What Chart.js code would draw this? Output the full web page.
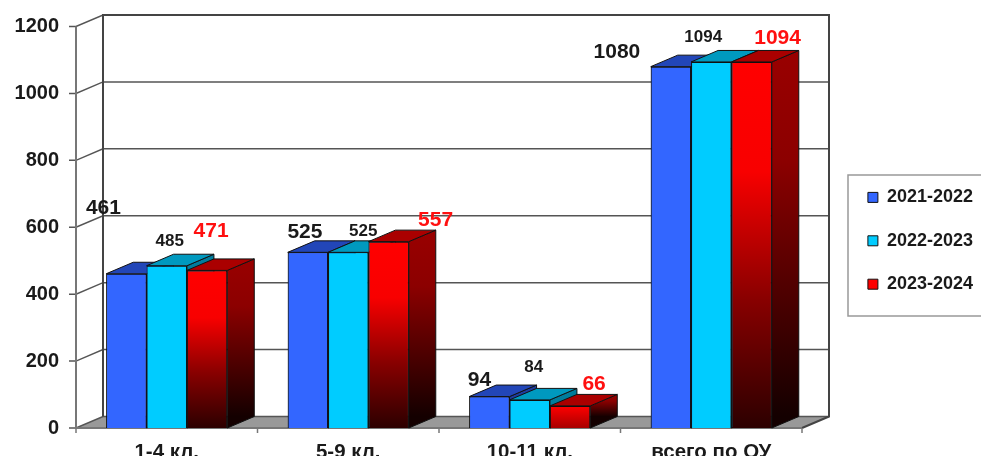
<!DOCTYPE html>
<html>
<head>
<meta charset="utf-8">
<title>Контингент учащихся</title>
<script src="https://cdn.jsdelivr.net/npm/chart.js@4/dist/chart.umd.min.js"></script>
<style>
  html, body { margin: 0; padding: 0; background: #fff; overflow: hidden; }
  canvas { display: block; filter: blur(0.6px); }
</style>
</head>
<body>
<canvas id="grafico" width="981" height="456"></canvas>
<script>
const categorias = ["1-4 кл.", "5-9 кл.", "10-11 кл.", "всего по ОУ"];
const anios = ["2021-2022", "2022-2023", "2023-2024"];
const valores2021 = [461, 525, 94, 1080];
const valores2022 = [485, 525, 84, 1094];
const valores2023 = [471, 557, 66, 1094];

// desplazamiento de cada etiqueta respecto a la cima de su barra
const ajustes2021 = [[-23, -66], [-3, -20], [-10, -16], [-54, -14]];
const ajustes2022 = [[3, -24], [15, -21], [4, -33], [-8, -25]];
const ajustes2023 = [[4, -39], [47, -21], [24, -22], [26, -24]];

const FUENTE = '"Liberation Sans", Arial, sans-serif';
const fondoX = 27, fondoY = -11.5;   // profundidad del efecto 3D

function rojoDegradado(context) {
  if (context.type !== "data" || !context.chart.chartArea) return "#CC0000";
  const y = context.chart.scales.y;
  const arriba = y.getPixelForValue(context.parsed.y);
  const g = context.chart.ctx.createLinearGradient(0, arriba, 0, y.bottom);
  if (y.bottom - arriba < 40) {
    // en las barras bajas casi no llega a oscurecer
    g.addColorStop(0, "#FF0000");
    g.addColorStop(1, "#A80000");
    return g;
  }
  g.addColorStop(0, "#FF0000");
  g.addColorStop(0.3, "#F80000");
  g.addColorStop(0.65, "#880000");
  g.addColorStop(1, "#2C0000");
  return g;
}

function rojoLado(ctx, arriba, abajo) {
  const g = ctx.createLinearGradient(0, arriba, 0, abajo);
  g.addColorStop(0, "#990000");
  g.addColorStop(0.3, "#8C0000");
  g.addColorStop(0.65, "#500000");
  g.addColorStop(1, "#140000");
  return g;
}

const estilos3D = [
  { techo: "#2246B8", lado: "#1E3C9E", texto: "#1a1a1a", fuente: "bold 21px " + FUENTE, ajustes: ajustes2021 },
  { techo: "#0099BF", lado: "#007C9C", texto: "#1a1a1a", fuente: "bold 17px " + FUENTE, ajustes: ajustes2022 },
  { techo: "#AA0000", lado: null, texto: "#FF1010", fuente: "bold 21px " + FUENTE, ajustes: ajustes2023 }
];

function cara(ctx, puntos, relleno) {
  ctx.beginPath();
  puntos.forEach((p, i) => i ? ctx.lineTo(p[0], p[1]) : ctx.moveTo(p[0], p[1]));
  ctx.closePath();
  ctx.fillStyle = relleno;
  ctx.fill();
  ctx.lineWidth = 1;
  ctx.strokeStyle = "#111";
  ctx.stroke();
}

const paredes = {
  id: "paredes",
  beforeDatasetsDraw(chart) {
    const { ctx, chartArea: a, scales } = chart;
    ctx.save();
    // suelo
    ctx.fillStyle = "#999999";
    ctx.beginPath();
    ctx.moveTo(a.left, a.bottom);
    ctx.lineTo(a.left + fondoX, a.bottom + fondoY);
    ctx.lineTo(a.right + fondoX, a.bottom + fondoY);
    ctx.lineTo(a.right, a.bottom);
    ctx.closePath();
    ctx.fill();

    // lineas de la cuadricula
    ctx.strokeStyle = "#555";
    ctx.lineWidth = 1.5;
    scales.y.ticks.forEach(t => {
      const y = scales.y.getPixelForValue(t.value);
      ctx.beginPath();
      ctx.moveTo(a.left - 7, y);
      ctx.lineTo(a.left, y);
      ctx.lineTo(a.left + fondoX, y + fondoY);
      ctx.lineTo(a.right + fondoX, y + fondoY);
      ctx.stroke();
    });

    // pared del fondo
    ctx.strokeStyle = "#444";
    ctx.lineWidth = 2;
    ctx.beginPath();
    ctx.moveTo(a.left + fondoX, a.bottom + fondoY);
    ctx.lineTo(a.left + fondoX, a.top + fondoY);
    ctx.lineTo(a.right + fondoX, a.top + fondoY);
    ctx.lineTo(a.right + fondoX, a.bottom + fondoY);
    ctx.lineTo(a.right, a.bottom);
    ctx.stroke();

    // ejes delanteros
    ctx.strokeStyle = "#777";
    ctx.beginPath();
    ctx.moveTo(a.left, a.top);
    ctx.lineTo(a.left, a.bottom);
    ctx.lineTo(a.right, a.bottom);
    ctx.stroke();

    // marcas entre categorias
    ctx.lineWidth = 1.5;
    for (let i = 0; i <= categorias.length; i++) {
      const x = a.left + (a.right - a.left) * i / categorias.length;
      ctx.beginPath();
      ctx.moveTo(x, a.bottom);
      ctx.lineTo(x, a.bottom + 5);
      ctx.stroke();
    }
    ctx.restore();
  },
  afterDatasetsDraw(chart) {
    const { ctx } = chart;
    ctx.save();
    // Chart.js pinta del ultimo al primero; aqui se repinta de izquierda a derecha
    // para que cada barra tape el lateral de la anterior
    chart.data.datasets.forEach((ds, i) => {
      const estilo = estilos3D[i];
      chart.getDatasetMeta(i).data.forEach(barra => {
        barra.draw(ctx);
        const izq = barra.x - barra.width / 2, der = barra.x + barra.width / 2;
        const lado = estilo.lado || rojoLado(ctx, barra.y + fondoY, barra.base + fondoY);
        cara(ctx, [[der, barra.y], [der + fondoX, barra.y + fondoY], [der + fondoX, barra.base + fondoY], [der, barra.base]], lado);
        cara(ctx, [[izq, barra.y], [izq + fondoX, barra.y + fondoY], [der + fondoX, barra.y + fondoY], [der, barra.y]], estilo.techo);
      });
    });

    // etiquetas de valor
    ctx.textAlign = "center";
    ctx.textBaseline = "middle";
    chart.data.datasets.forEach((ds, i) => {
      const estilo = estilos3D[i];
      chart.getDatasetMeta(i).data.forEach((barra, j) => {
        ctx.font = estilo.fuente;
        ctx.fillStyle = estilo.texto;
        ctx.fillText(String(ds.data[j]), barra.x + estilo.ajustes[j][0], barra.y + estilo.ajustes[j][1]);
      });
    });
    ctx.restore();
  }
};

// la leyenda va fuera del area normal: se reserva el hueco y luego se coloca a mano
const leyendaFija = {
  id: "leyendaFija",
  beforeLayout(chart) {
    const leyenda = chart.legend;
    if (!leyenda.fitOriginal) {
      leyenda.fitOriginal = leyenda.fit;
      leyenda.fit = function () {
        this.fitOriginal();
        this.width = 179;
      };
    }
  },
  afterLayout(chart) {
    const leyenda = chart.legend;
    leyenda.left = 842.5;
    leyenda.right = 1021.5;
    leyenda.top = 163;
    leyenda.bottom = 330;
  },
  beforeDraw(chart) {
    const { ctx } = chart;
    ctx.save();
    ctx.strokeStyle = "#999";
    ctx.lineWidth = 1.5;
    ctx.strokeRect(848, 175, 150, 141);
    ctx.restore();
  }
};

new Chart(document.getElementById("grafico"), {
  type: "bar",
  data: {
    labels: categorias,
    datasets: [
      { label: anios[0], data: valores2021, backgroundColor: "#3366FF" },
      { label: anios[1], data: valores2022, backgroundColor: "#00CCFF" },
      { label: anios[2], data: valores2023, backgroundColor: rojoDegradado }
    ]
  },
  plugins: [paredes, leyendaFija],
  options: {
    responsive: false,
    animation: false,
    events: [],
    layout: { padding: { top: 26.5, left: 0, right: 0, bottom: 0 } },
    datasets: {
      bar: {
        categoryPercentage: 0.667,
        barPercentage: 1,
        borderWidth: 1,
        borderColor: "#111"
      }
    },
    scales: {
      x: {
        grid: { display: false, drawTicks: false },
        border: { display: false },
        afterFit(scale) { scale.height = 28; },
        ticks: {
          padding: 12,
          maxRotation: 0,
          color: "#1a1a1a",
          font: { family: FUENTE, size: 20.5, weight: "bold" }
        }
      },
      y: {
        min: 0,
        max: 1200,
        grid: { display: false, drawTicks: false },
        border: { display: false },
        afterFit(scale) {
          scale.width = 76;
          // el padding de las marcas no debe comerse el area del grafico
          scale.paddingTop = 0;
          scale.paddingBottom = 0;
        },
        ticks: {
          stepSize: 200,
          padding: 17,
          color: "#1a1a1a",
          font: { family: FUENTE, size: 20, weight: "bold" },
          callback: v => String(v)
        }
      }
    },
    plugins: {
      tooltip: { enabled: false },
      legend: {
        position: "right",
        align: "start",
        labels: {
          boxWidth: 10,
          boxHeight: 10,
          padding: 25.4,
          color: "#1a1a1a",
          font: { family: FUENTE, size: 18, weight: "bold" }
        }
      }
    }
  }
});
</script>
</body>
</html>
